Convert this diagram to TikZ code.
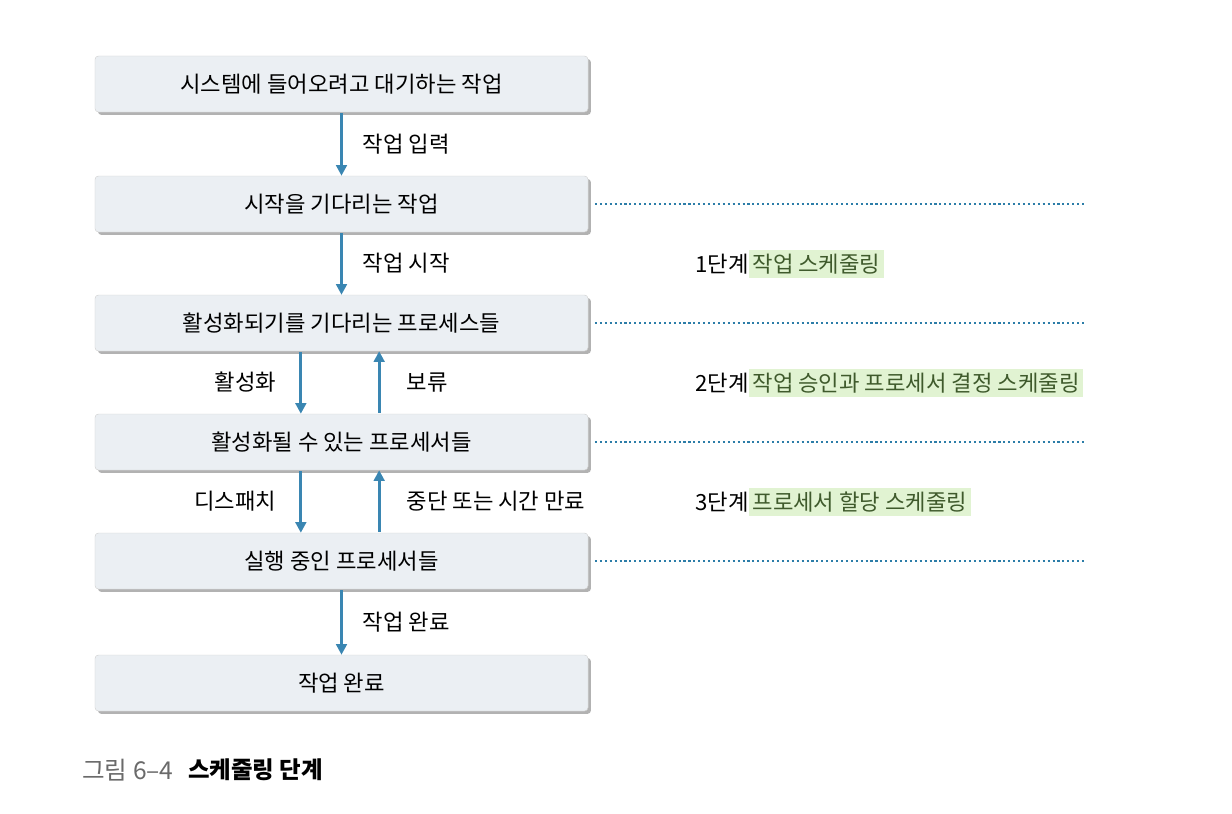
\documentclass[tikz,border=0pt]{standalone}
\usepackage{fontspec}
\setmainfont{Noto Sans CJK KR}
\usetikzlibrary{arrows.meta,positioning,shadows}
\definecolor{boxfill}{HTML}{EBEFF3}
\definecolor{flow}{HTML}{3A86B2}
\definecolor{dots}{HTML}{2C7DA8}
\definecolor{hilite}{HTML}{E1F3D2}
\definecolor{leaf}{HTML}{3F5A2C}
\definecolor{capgray}{HTML}{6A6A6A}

\tikzset{
  statebox/.style={draw=gray!35,fill=boxfill,rounded corners=3pt,
    minimum width=14.79cm,minimum height=1.68cm,inner sep=0,
    drop shadow={shadow xshift=2.5pt,shadow yshift=-2.5pt,fill=black!55,opacity=0.55}},
  flowarrow/.style={-{Triangle[length=9pt,width=9pt]},line width=2.4pt,draw=flow,shorten <=1pt},
  dotline/.style={draw=dots,line width=2pt,dash pattern=on 1.8pt off 2.4pt},
  tagleft/.style={midway,anchor=east,inner sep=0},
  tagright/.style={midway,anchor=west,inner sep=0},
  stagenum/.style={anchor=west,inner xsep=0,inner ysep=3pt},
  stagetag/.style={fill=hilite,text=leaf,inner xsep=3pt,inner ysep=3pt}
}

\begin{document}
\begin{tikzpicture}[x=0.03cm,y=-0.03cm,font=\fontsize{19}{23}\selectfont]
\useasboundingbox (0,0) rectangle (1232,814);

% state boxes
\node[statebox] (enter) at (341.5,84) {시스템에 들어오려고 대기하는 작업};
\node[statebox] (wait) at (341.5,204) {시작을 기다리는 작업};
\node[statebox] (ready) at (341.5,323) {활성화되기를 기다리는 프로세스들};
\node[statebox] (active) at (341.5,442) {활성화될 수 있는 프로세서들};
\node[statebox] (run) at (341.5,561) {실행 중인 프로세서들};
\node[statebox] (done) at (341.5,683) {작업 완료};

% transitions
\draw[flowarrow] (enter.south) -- (wait.north)
  node[tagright,xshift=0.6cm] {작업 입력};
\draw[flowarrow] (wait.south) -- (ready.north)
  node[tagright,xshift=0.6cm] {작업 시작};
\draw[flowarrow] ([xshift=-1.22cm]ready.south) -- ([xshift=-1.22cm]active.north)
  node[tagleft,xshift=-0.69cm] {활성화};
\draw[flowarrow] ([xshift=1.13cm]active.north) -- ([xshift=1.13cm]ready.south)
  node[tagright,xshift=0.78cm] {보류};
\draw[flowarrow] ([xshift=-1.22cm]active.south) -- ([xshift=-1.22cm]run.north)
  node[tagleft,xshift=-0.69cm] {디스패치};
\draw[flowarrow] ([xshift=1.13cm]run.north) -- ([xshift=1.13cm]active.south)
  node[tagright,xshift=0.78cm] {중단 또는 시간 만료};
\draw[flowarrow] (run.south) -- (done.north)
  node[tagright,xshift=0.6cm] {작업 완료};

% stage borders
\coordinate (edge) at (1085,0);
\foreach \b in {wait,ready,active,run}
  \draw[dotline] ([xshift=0.2cm]\b.east) -- (\b.east -| edge);

% stages
\node[stagenum] (s1) at (695,264) {1단계};
\node[stagetag,right=0pt of s1] (t1) {작업 스케줄링};
\node[stagenum] (s2) at (695,383) {2단계};
\node[stagetag,right=0pt of s2] (t2) {작업 승인과 프로세서 결정 스케줄링};
\node[stagenum] (s3) at (695,502) {3단계};
\node[stagetag,right=0pt of s3] (t3) {프로세서 할당 스케줄링};

% caption
\node[anchor=west,inner sep=0,text=capgray,font=\fontsize{21}{25}\selectfont] (fig) at (82,770) {그림 6–4};
\node[right=12pt of fig,inner sep=0,font=\fontsize{20}{24}\selectfont\bfseries] (title) {스케줄링 단계};
\end{tikzpicture}
\end{document}
